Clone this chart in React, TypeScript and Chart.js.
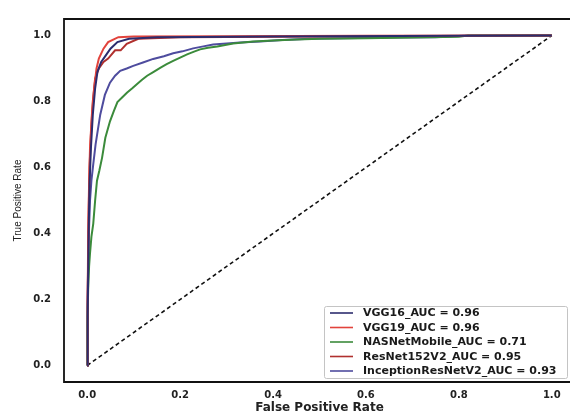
import React, { useEffect, useRef } from "react";
import { Chart, registerables } from "chart.js";

Chart.register(...registerables);

const seriesLabels = [
  "VGG16_AUC = 0.96",
  "VGG19_AUC = 0.96",
  "NASNetMobile_AUC = 0.71",
  "ResNet152V2_AUC = 0.95",
  "InceptionResNetV2_AUC = 0.93",
];
const seriesColors = ["#2c2c6e", "#e2433c", "#3b8b3b", "#b0302e", "#4e4c9e"];

const fprVGG16 = [0, 0.001, 0.003, 0.005, 0.008, 0.012, 0.017, 0.022, 0.03, 0.04, 0.05, 0.065, 0.09, 0.15, 0.4, 0.8, 1];
const tprVGG16 = [0, 0.15, 0.4, 0.55, 0.66, 0.76, 0.84, 0.89, 0.92, 0.94, 0.96, 0.98, 0.99, 0.995, 0.997, 0.999, 1];

const fprVGG19 = [0, 0.001, 0.002, 0.004, 0.006, 0.01, 0.015, 0.02, 0.025, 0.035, 0.045, 0.067, 0.1, 0.3, 0.6, 1];
const tprVGG19 = [0, 0.2, 0.4, 0.55, 0.66, 0.76, 0.84, 0.9, 0.93, 0.96, 0.98, 0.995, 0.997, 0.998, 0.999, 1];

const fprNASNet = [0, 0, 0.001, 0.002, 0.004, 0.006, 0.009, 0.013, 0.017, 0.021, 0.026, 0.032, 0.039, 0.049, 0.057, 0.065, 0.075, 0.086, 0.097, 0.108, 0.118, 0.129, 0.143, 0.157, 0.171, 0.185, 0.2, 0.215, 0.23, 0.243, 0.26, 0.28, 0.314, 0.357, 0.4, 0.45, 0.5, 0.6, 0.7, 0.8, 0.82, 1];
const tprNASNet = [0, 0.05, 0.12, 0.23, 0.3, 0.34, 0.39, 0.43, 0.5, 0.56, 0.59, 0.63, 0.69, 0.74, 0.77, 0.798, 0.812, 0.827, 0.84, 0.854, 0.866, 0.878, 0.89, 0.902, 0.913, 0.923, 0.933, 0.943, 0.951, 0.958, 0.963, 0.967, 0.976, 0.982, 0.985, 0.988, 0.99, 0.992, 0.994, 0.996, 1, 1];

const fprResNet = [0, 0.001, 0.003, 0.005, 0.008, 0.012, 0.017, 0.025, 0.035, 0.045, 0.06, 0.072, 0.085, 0.11, 0.2, 0.5, 1];
const tprResNet = [0, 0.2, 0.45, 0.6, 0.7, 0.8, 0.87, 0.9, 0.92, 0.93, 0.955, 0.955, 0.975, 0.99, 0.995, 0.997, 1];

const fprIncep = [0, 0, 0.001, 0.002, 0.004, 0.006, 0.009, 0.013, 0.018, 0.028, 0.038, 0.049, 0.06, 0.071, 0.085, 0.099, 0.12, 0.142, 0.165, 0.185, 0.205, 0.228, 0.25, 0.271, 0.3, 0.329, 0.372, 0.42, 0.48, 0.55, 0.65, 0.75, 0.82, 1];
const tprIncep = [0, 0.05, 0.18, 0.3, 0.42, 0.5, 0.56, 0.61, 0.67, 0.76, 0.82, 0.857, 0.878, 0.893, 0.9, 0.908, 0.918, 0.929, 0.937, 0.946, 0.952, 0.961, 0.967, 0.973, 0.976, 0.979, 0.982, 0.986, 0.99, 0.992, 0.994, 0.995, 1, 1];

const fprDiag = [0, 1];
const tprDiag = [0, 1];

const xTicks = [0, 0.2, 0.4, 0.6, 0.8, 1.0];
const yTicks = [0, 0.2, 0.4, 0.6, 0.8, 1.0];

const zip = (xs: number[], ys: number[]) => xs.map((x, i) => ({ x, y: ys[i] }));

const TICK_FONT = { family: "'DejaVu Sans', sans-serif", size: 10, weight: "bold" as const };

const framePlugin = {
  id: "frame",
  afterDatasetsDraw(chart: any) {
    const { ctx, chartArea: a } = chart;
    ctx.save();
    ctx.strokeStyle = "#111";
    ctx.lineWidth = 1.8;
    ctx.beginPath();
    ctx.moveTo(a.right + 5, a.top);
    ctx.lineTo(a.left, a.top);
    ctx.lineTo(a.left, a.bottom);
    ctx.lineTo(a.right + 5, a.bottom);
    ctx.stroke();
    ctx.restore();
  },
};

const legendPlugin = {
  id: "boxLegend",
  afterDraw(chart: any) {
    const { ctx } = chart;
    const items = chart.data.datasets.filter((d: any) => d.label);
    const boxLeft = 324;
    const boxTop = 306;
    const boxRight = 567;
    const rowH = 14.5;
    const boxH = 72;
    ctx.save();
    ctx.fillStyle = "rgba(255,255,255,0.85)";
    ctx.strokeStyle = "#c4c4c4";
    ctx.lineWidth = 1;
    ctx.beginPath();
    (ctx as any).roundRect(boxLeft + 0.5, boxTop + 0.5, boxRight - boxLeft, boxH, 2);
    ctx.fill();
    ctx.stroke();
    ctx.font = "bold 11px 'DejaVu Sans', sans-serif";
    ctx.textBaseline = "middle";
    items.forEach((d: any, i: number) => {
      const y = boxTop + 7 + i * rowH;
      ctx.strokeStyle = d.borderColor;
      ctx.lineWidth = 1.6;
      ctx.beginPath();
      ctx.moveTo(330, y);
      ctx.lineTo(353, y);
      ctx.stroke();
      ctx.fillStyle = "#1a1a1a";
      ctx.fillText(d.label, 363, y + 0.5);
    });
    ctx.restore();
  },
};

export default function App() {
  const ref = useRef<HTMLCanvasElement>(null);
  useEffect(() => {
    if (!ref.current) return;
    const series = [
      zip(fprVGG16, tprVGG16),
      zip(fprVGG19, tprVGG19),
      zip(fprNASNet, tprNASNet),
      zip(fprResNet, tprResNet),
      zip(fprIncep, tprIncep),
    ];
    const datasets: any[] = series.map((data, i) => ({
      label: seriesLabels[i],
      data,
      borderColor: seriesColors[i],
      borderWidth: 2,
      pointRadius: 0,
      tension: 0,
      fill: false,
    }));
    datasets.push({
      label: "",
      data: zip(fprDiag, tprDiag),
      borderColor: "#111",
      borderWidth: 1.6,
      borderDash: [4, 3],
      pointRadius: 0,
      fill: false,
    });
    const chart = new Chart(ref.current, {
      type: "line",
      data: { datasets },
      plugins: [framePlugin, legendPlugin],
      options: {
        animation: false,
        responsive: false,
        devicePixelRatio: 1,
        layout: { padding: { left: 0, top: 13, right: 3, bottom: 0 } },
        plugins: { legend: { display: false }, tooltip: { enabled: false } },
        scales: {
          x: {
            type: "linear",
            min: -0.05,
            max: 1.05,
            grid: { display: false, drawTicks: false },
            border: { display: false },
            afterBuildTicks: (s: any) => {
              s.ticks = xTicks.map((v) => ({ value: v }));
            },
            afterFit: (s: any) => {
              s.height = 33;
            },
            ticks: {
              padding: 7,
              color: "#222",
              font: TICK_FONT,
              callback: (v: any) => Number(v).toFixed(1),
            },
            title: {
              display: true,
              text: "False Positive Rate",
              color: "#222",
              font: { family: "'DejaVu Sans', sans-serif", size: 12, weight: "bold" },
              padding: { top: 0, bottom: 0 },
            },
          },
          y: {
            type: "linear",
            min: -0.05,
            max: 1.05,
            grid: { display: false, drawTicks: false },
            border: { display: false },
            afterBuildTicks: (s: any) => {
              s.ticks = yTicks.map((v) => ({ value: v }));
            },
            afterFit: (s: any) => {
              s.width = 64;
            },
            ticks: {
              padding: 13,
              color: "#222",
              font: TICK_FONT,
              callback: (v: any) => Number(v).toFixed(1),
            },
            title: {
              display: true,
              text: "True Positive Rate",
              color: "#222",
              font: { family: "'Liberation Sans', sans-serif", size: 10, weight: "normal" },
              padding: { top: 12, bottom: 0 },
            },
          },
        },
      },
    });
    return () => chart.destroy();
  }, []);
  return (
    <div
      style={{
        position: "fixed",
        left: 0,
        top: 0,
        width: 570,
        height: 415,
        overflow: "hidden",
        background: "#fff",
      }}
    >
      <div style={{ width: 578, height: 415 }}>
        <canvas ref={ref} width={578} height={415} style={{ display: "block", width: 578, height: 415 }} />
      </div>
    </div>
  );
}
